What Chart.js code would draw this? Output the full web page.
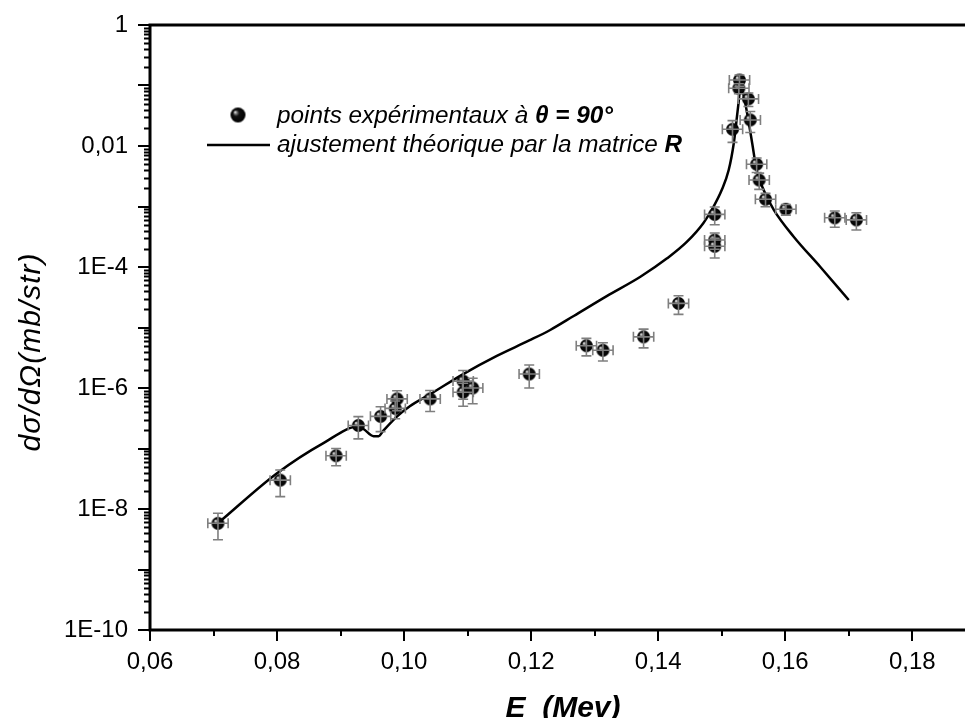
<!DOCTYPE html>
<html>
<head>
<meta charset="utf-8">
<script src="https://cdn.jsdelivr.net/npm/chart.js@4/dist/chart.umd.min.js"></script>
<style>
  body { margin: 0; background: #fff; }
  canvas { display: block; }
</style>
</head>
<body>
<canvas id="sigmaChart" width="965" height="718"></canvas>
<script>
// experimental points (E in MeV, d sigma / d Omega in mb/str)
const expE = [0.0707, 0.0805, 0.0893, 0.0928, 0.0963, 0.0986, 0.0989, 0.1041, 0.1093, 0.1093,
              0.1108, 0.1197, 0.1287, 0.1313, 0.1377, 0.1432, 0.1489, 0.1489, 0.1489, 0.1517,
              0.1527, 0.1528, 0.1542, 0.1545, 0.1555, 0.1559, 0.1569, 0.1601, 0.1678, 0.1712];
const expSigma = [5.8e-9, 3.0e-8, 7.6e-8, 2.4e-7, 3.4e-7, 4.6e-7, 6.6e-7, 6.6e-7, 1.3e-6, 8.5e-7,
                  1.0e-6, 1.7e-6, 5.0e-6, 4.2e-6, 7.0e-6, 2.5e-5, 7.4e-4, 2.8e-4, 2.2e-4, 0.0189,
                  0.090, 0.123, 0.060, 0.0269, 0.0050, 0.00274, 0.00132, 0.00090, 6.5e-4, 6.0e-4];
const expErrE = [0.0016, 0.0016, 0.0016, 0.0016, 0.0016, 0.0016, 0.0016, 0.0016, 0.0016, 0.0016,
                 0.0016, 0.0016, 0.0016, 0.0016, 0.0016, 0.0016, 0.0016, 0.0016, 0.0016, 0.0016,
                 0.0016, 0.0016, 0.0016, 0.0016, 0.0016, 0.0016, 0.0016, 0.0016, 0.0016, 0.0016];
const expErrSigma = [2.7e-9, 1.4e-8, 2.4e-8, 9.6e-8, 1.5e-7, 1.5e-7, 2.4e-7, 2.5e-7, 6.5e-7, 3.5e-7,
                     4.5e-7, 7.0e-7, 1.6e-6, 1.4e-6, 2.4e-6, 8.5e-6, 2.4e-4, 8.4e-5, 7.9e-5, 0.0074,
                     0.017, 0.026, 0.015, 0.0102, 0.00135, 0.00082, 0.00033, 0.00018, 1.95e-4, 1.9e-4];

// R-matrix fit curve
const fitE = [0.0710, 0.0800, 0.0873, 0.0928, 0.0936, 0.0952, 0.0960, 0.0967, 0.0989, 0.1009,
              0.1041, 0.1093, 0.1146, 0.1197, 0.1230, 0.1267, 0.1319, 0.1372, 0.1414, 0.1445,
              0.1471, 0.1487, 0.1500, 0.1511, 0.1519, 0.1524, 0.1528, 0.1529, 0.1535, 0.1541,
              0.1548, 0.1555, 0.1566, 0.1582, 0.1613, 0.1655, 0.1700];
const fitSigma = [6.2e-9, 3.9e-8, 1.23e-7, 2.3e-7, 2.1e-7, 1.6e-7, 1.6e-7, 1.95e-7, 3.4e-7, 5.0e-7,
                  7.9e-7, 1.7e-6, 3.4e-6, 6.1e-6, 9.1e-6, 1.55e-5, 3.3e-5, 6.9e-5, 1.39e-4, 2.6e-4,
                  5.3e-4, 9.9e-4, 1.87e-3, 4.0e-3, 0.0111, 0.0305, 0.0743, 0.102, 0.0653, 0.0305,
                  0.0111, 4.0e-3, 1.87e-3, 8.8e-4, 3.2e-4, 1.01e-4, 2.85e-5];

// axes
const xTickValues = [0.06, 0.08, 0.10, 0.12, 0.14, 0.16, 0.18];
const xTickLabels = ['0,06', '0,08', '0,10', '0,12', '0,14', '0,16', '0,18'];
const xMinorValues = [0.07, 0.09, 0.11, 0.13, 0.15, 0.17];
const yTickValues = [1e-10, 1e-8, 1e-6, 1e-4, 1e-2, 1];
const yTickLabels = ['1E-10', '1E-8', '1E-6', '1E-4', '0,01', '1'];

const FONT = '"Liberation Sans", Arial, sans-serif';

// shaded ball marker
function makeBall(r) {
    const c = document.createElement('canvas');
    c.width = c.height = r * 2 + 2;
    const g = c.getContext('2d');
    const cx = r + 1, cy = r + 1;
    const grad = g.createRadialGradient(cx - r * 0.4, cy - r * 0.4, 0.3, cx, cy, r);
    grad.addColorStop(0, '#f0f0f0');
    grad.addColorStop(0.18, '#777');
    grad.addColorStop(0.4, '#111');
    grad.addColorStop(1, '#000');
    g.fillStyle = grad;
    g.beginPath();
    g.arc(cx, cy, r, 0, Math.PI * 2);
    g.fill();
    return c;
}
const ball = makeBall(6.5);
const legendBall = makeBall(7.5);

const errorBars = {
    id: 'errorBars',
    afterDatasetsDraw(chart) {
        const { ctx, scales: { x, y } } = chart;
        ctx.save();
        ctx.strokeStyle = '#7f7f7f';
        ctx.lineWidth = 1.6;
        const cap = 5;
        expE.forEach((e, i) => {
            const px = x.getPixelForValue(e);
            const py = y.getPixelForValue(expSigma[i]);
            const x0 = x.getPixelForValue(e - expErrE[i]);
            const x1 = x.getPixelForValue(e + expErrE[i]);
            const y0 = y.getPixelForValue(expSigma[i] + expErrSigma[i]);
            const y1 = y.getPixelForValue(expSigma[i] - expErrSigma[i]);
            ctx.beginPath();
            ctx.moveTo(x0, py); ctx.lineTo(x1, py);
            ctx.moveTo(x0, py - cap); ctx.lineTo(x0, py + cap);
            ctx.moveTo(x1, py - cap); ctx.lineTo(x1, py + cap);
            ctx.moveTo(px, y0); ctx.lineTo(px, y1);
            ctx.moveTo(px - cap, y0); ctx.lineTo(px + cap, y0);
            ctx.moveTo(px - cap, y1); ctx.lineTo(px + cap, y1);
            ctx.stroke();
        });
        ctx.restore();
    }
};

const axesAndText = {
    id: 'axesAndText',
    afterDraw(chart) {
        const { ctx, chartArea: a, scales: { x, y } } = chart;
        ctx.save();
        ctx.strokeStyle = '#000';
        ctx.lineCap = 'butt';

        // tick marks
        ctx.lineWidth = 2;
        ctx.beginPath();
        for (let d = -10; d <= 0; d++) {
            const py = Math.round(y.getPixelForValue(Math.pow(10, d)));
            ctx.moveTo(a.left - 12, py); ctx.lineTo(a.left, py);
            if (d < 0) {
                for (let m = 2; m <= 9; m++) {
                    const pm = Math.round(y.getPixelForValue(m * Math.pow(10, d))) + 0.5;
                    ctx.moveTo(a.left - 6, pm); ctx.lineTo(a.left, pm);
                }
            }
        }
        xTickValues.forEach(v => {
            const px = Math.round(x.getPixelForValue(v));
            ctx.moveTo(px, a.bottom); ctx.lineTo(px, a.bottom + 11);
        });
        xMinorValues.forEach(v => {
            const px = Math.round(x.getPixelForValue(v));
            ctx.moveTo(px, a.bottom); ctx.lineTo(px, a.bottom + 6);
        });
        ctx.stroke();

        // axis lines
        ctx.lineWidth = 3;
        ctx.beginPath();
        ctx.moveTo(a.left, a.top - 1.5); ctx.lineTo(a.left, a.bottom + 1.5);
        ctx.moveTo(a.left - 1.5, a.bottom); ctx.lineTo(a.right, a.bottom);
        ctx.moveTo(a.left - 1.5, a.top); ctx.lineTo(a.right, a.top);
        ctx.stroke();

        // axis titles
        ctx.fillStyle = '#000';
        ctx.textAlign = 'center';
        ctx.textBaseline = 'middle';
        ctx.save();
        ctx.translate(32, 352);
        ctx.rotate(-Math.PI / 2);
        ctx.font = 'italic 30px ' + FONT;
        ctx.letterSpacing = '1px';
        ctx.fillText('d\u03C3/d\u03A9(mb/str)', 0, 0);
        ctx.restore();

        ctx.font = 'italic bold 30px ' + FONT;
        ctx.textBaseline = 'alphabetic';
        ctx.fillText('E  (Mev)', 563, 717);

        // legend
        ctx.drawImage(legendBall, 238 - legendBall.width / 2, 115 - legendBall.height / 2);
        ctx.lineWidth = 2.5;
        ctx.beginPath();
        ctx.moveTo(207, 145); ctx.lineTo(270, 145);
        ctx.stroke();

        ctx.textAlign = 'left';
        const it = 'italic 24.3px ' + FONT;
        const bi = 'italic bold 24.3px ' + FONT;
        const parts1 = [['points exp\u00E9rimentaux \u00E0 ', it], ['\u03B8 = 90\u00B0', bi]];
        const parts2 = [['ajustement th\u00E9orique par la matrice ', it], ['R', bi]];
        [[parts1, 123], [parts2, 152]].forEach(([parts, base]) => {
            let tx = 277;
            parts.forEach(([t, f]) => {
                ctx.font = f;
                ctx.fillText(t, tx, base);
                tx += ctx.measureText(t).width;
            });
        });
        ctx.restore();
    }
};

new Chart(document.getElementById('sigmaChart'), {
    type: 'scatter',
    data: {
        datasets: [
            {
                label: 'points expérimentaux',
                data: expE.map((e, i) => ({ x: e, y: expSigma[i] })),
                pointStyle: ball,
                pointRadius: 6.5,
                showLine: false
            },
            {
                label: 'ajustement théorique',
                data: fitE.map((e, i) => ({ x: e, y: fitSigma[i] })),
                showLine: true,
                pointRadius: 0,
                borderColor: '#000',
                borderWidth: 2.5,
                cubicInterpolationMode: 'monotone',
                fill: false
            }
        ]
    },
    options: {
        responsive: false,
        animation: false,
        layout: { autoPadding: false, padding: { top: 25, right: 0, bottom: 0, left: 0 } },
        plugins: { legend: { display: false }, tooltip: { enabled: false } },
        scales: {
            x: {
                type: 'linear',
                min: 0.06,
                max: 0.1883,
                grid: { display: false, drawTicks: false },
                border: { display: false },
                afterBuildTicks: s => { s.ticks = xTickValues.map(v => ({ value: v })); },
                afterFit: s => { s.height = 88; s.paddingLeft = 0; s.paddingRight = 0; },
                ticks: {
                    autoSkip: false,
                    maxRotation: 0,
                    padding: 18,
                    color: '#000',
                    font: { family: FONT, size: 24 },
                    callback: (v, i) => xTickLabels[i]
                }
            },
            y: {
                type: 'logarithmic',
                min: 1e-10,
                max: 1,
                grid: { display: false, drawTicks: false },
                border: { display: false },
                afterBuildTicks: s => { s.ticks = yTickValues.map(v => ({ value: v })); },
                afterFit: s => { s.width = 150; s.paddingTop = 0; s.paddingBottom = 0; },
                ticks: {
                    autoSkip: false,
                    padding: 22,
                    color: '#000',
                    font: { family: FONT, size: 24 },
                    callback: (v, i) => yTickLabels[i]
                }
            }
        }
    },
    plugins: [errorBars, axesAndText]
});
</script>
</body>
</html>
